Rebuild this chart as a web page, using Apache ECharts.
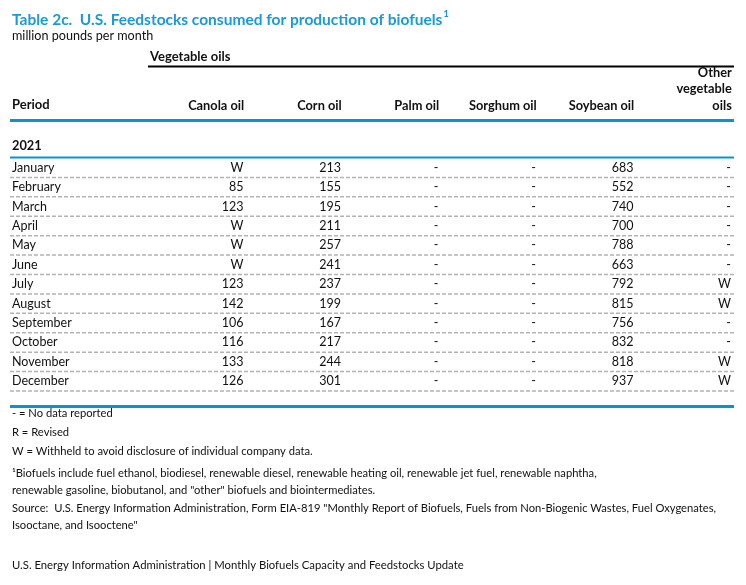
<!DOCTYPE html>
<html><head><meta charset="utf-8">
<script src="https://cdn.jsdelivr.net/npm/echarts@6/dist/echarts.min.js"></script>
<style>html,body{margin:0;padding:0;background:#fff}#c{width:746px;height:585px}</style>
</head><body><div id="c"></div>
<script>
const periods = ["January","February","March","April","May","June","July","August","September","October","November","December"];
const columns = ["Canola oil","Corn oil","Palm oil","Sorghum oil","Soybean oil","Other\nvegetable\noils"];
const canolaOil = ["W","85","123","W","W","W","123","142","106","116","133","126"];
const cornOil = ["213","155","195","211","257","241","237","199","167","217","244","301"];
const palmOil = ["-","-","-","-","-","-","-","-","-","-","-","-"];
const sorghumOil = ["-","-","-","-","-","-","-","-","-","-","-","-"];
const soybeanOil = ["683","552","740","700","788","663","792","815","756","832","818","937"];
const otherVegOils = ["-","-","-","-","-","-","W","W","-","-","W","W"];
const year = "2021";
const notes = [
  "- = No data reported",
  "R = Revised",
  "W = Withheld to avoid disclosure of individual company data.",
  "\u00B9Biofuels include fuel ethanol, biodiesel, renewable diesel, renewable heating oil, renewable jet fuel, renewable naphtha,",
  "renewable gasoline, biobutanol, and \"other\" biofuels and biointermediates.",
  "Source:  U.S. Energy Information Administration, Form EIA-819 \"Monthly Report of Biofuels, Fuels from Non-Biogenic Wastes, Fuel Oxygenates,",
  "Isooctane, and Isooctene\""
];
const footer = "U.S. Energy Information Administration | Monthly Biofuels Capacity and Feedstocks Update";

const FONT = "Lato";
const BLUE = "#0a93d3";
const TXT = "#111";

const colArrays = [canolaOil, cornOil, palmOil, sorghumOil, soybeanOil, otherVegOils];
const cells = [];
colArrays.forEach((arr, c) => arr.forEach((v, r) => cells.push([c, r, v])));
const rules = periods.map((p, r) => [0, r]);

const chart = echarts.init(document.getElementById('c'), null, {renderer: 'canvas'});
const noteY = [415, 434, 453, 475, 492, 510, 527];

const graphics = [
  {type:'text', left:12, top:10, style:{text:'{t|Table 2c.  U.S. Feedstocks consumed for production of biofuels}{s|1}', rich:{t:{fontWeight:'bold', fontSize:15.5, fontFamily:FONT, fill:'#1b9ad6'}, s:{fontWeight:'bold', fontSize:9, fontFamily:FONT, fill:'#1b9ad6', verticalAlign:'top', padding:[0,0,10,1]}}}},
  {type:'text', left:12, top:29, style:{text:'million pounds per month', font:'12.6px '+FONT, fill:TXT}},
  {type:'text', left:150, top:50, style:{text:'Vegetable oils', font:'bold 13px '+FONT, fill:TXT}},
  {type:'rect', shape:{x:148, y:65.5, width:586, height:2}, style:{fill:'#000'}},
  {type:'text', left:12, top:98, style:{text:'Period', font:'bold 13px '+FONT, fill:TXT}},
  {type:'rect', shape:{x:10, y:119, width:724, height:3}, style:{fill:BLUE}},
  {type:'text', left:12, top:139, style:{text:year, font:'bold 12.8px '+FONT, fill:TXT}},
  {type:'rect', shape:{x:10, y:156.5, width:724, height:2}, style:{fill:BLUE}},
  {type:'rect', shape:{x:10, y:405, width:724, height:3}, style:{fill:BLUE}}
];
notes.forEach((n, i) => graphics.push({type:'text', left:12, top:noteY[i]-7, style:{text:n, font:'11.2px '+FONT, fill:TXT}}));
graphics.push({type:'text', left:12, top:560, style:{text:footer, font:'11.3px '+FONT, fill:TXT}});

chart.setOption({
  animation:false,
  grid:{left:148, right:13, top:158, bottom:194},
  xAxis:{type:'category', position:'top', data:columns,
    axisLine:{show:false}, axisTick:{show:false}, splitLine:{show:false},
    axisLabel:{interval:0, margin:44, formatter:v=>'{h|'+v.split('\n').join('}\n{h|')+'}',
      rich:{h:{fontWeight:'bold', fontSize:12.8, fontFamily:FONT, color:TXT, width:95, align:'right', lineHeight:16.5}}}},
  yAxis:{type:'category', inverse:true, data:periods,
    axisLine:{show:false}, axisTick:{show:false}, splitLine:{show:false},
    axisLabel:{align:'left', margin:136, fontFamily:FONT, fontSize:12.5, color:TXT}},
  graphic:graphics,
  series:[
    {type:'custom', data:rules, silent:true, encode:{x:0,y:1},
      renderItem:(params, api)=>{
        const c = api.coord([api.value(0), api.value(1)]);
        const s = api.size([1,1]);
        const cs = params.coordSys;
        const y = c[1] + s[1]/2;
        return {type:'line', shape:{x1:cs.x-138, y1:y, x2:cs.x+cs.width+1, y2:y},
          style:{stroke:'#b3b3b3', lineWidth:1.5, lineDash:[4,2]}};
      }},
    {type:'custom', data:cells, silent:true, encode:{x:0,y:1},
      renderItem:(params, api)=>{
        const c = api.coord([api.value(0), api.value(1)]);
        const s = api.size([1,1]);
        const v = cells[params.dataIndex][2];
        return {type:'text', x:c[0]+s[0]/2-2, y:c[1],
          style:{text:v, textAlign:'right', textVerticalAlign:'middle', font:'12.5px '+FONT, fill:TXT}};
      }}
  ]
});
</script></body></html>
